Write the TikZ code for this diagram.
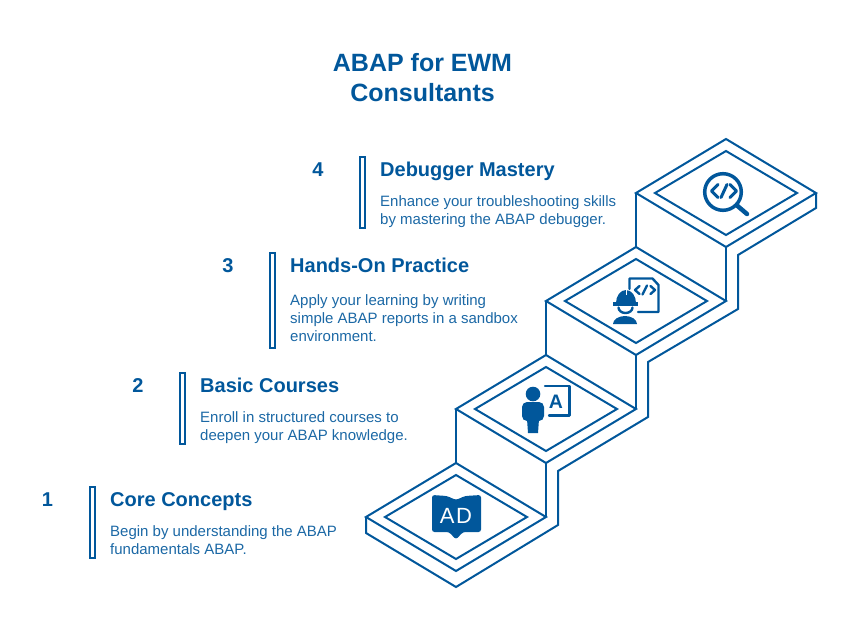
\documentclass[tikz,border=0pt]{standalone}
\usepackage{fontspec}
\setmainfont{Liberation Sans}
\usetikzlibrary{positioning}
\definecolor{abapblue}{HTML}{01579B}

\begin{document}
\begin{tikzpicture}[
            x=1pt, y=-1pt,
            stairline/.style={ draw=abapblue, line width=2pt, line join=miter },
            iconfill/.style={ fill=abapblue, draw=none },
            iconline/.style={ draw=abapblue, line width=2.4pt, line cap=round, line join=round },
            heading/.style={ text=abapblue, font=\bfseries\fontsize{25}{30}\selectfont, align=center, inner sep=0pt },
            stepnum/.style={ text=abapblue, font=\bfseries\fontsize{20}{20}\selectfont, inner sep=0pt, anchor=base },
            stepbar/.style={ draw=abapblue, line width=2pt, minimum width=5pt, inner sep=0pt },
            steptitle/.style={ text=abapblue, font=\bfseries\fontsize{20}{20}\selectfont, inner sep=0pt, anchor=base west },
            stepdesc/.style={ text=abapblue!90, font=\fontsize{15}{18}\selectfont, align=left, inner sep=0pt }
        ]
            \useasboundingbox (0,0) rectangle (852,619);

            % Title
            \node (heading) [heading] at (422.5,78) {ABAP for EWM\\Consultants};

            % Step texts
            \node (num1) [stepnum] at (47.5,506) {1};
            \node (bar1) [stepbar, minimum height=71pt] at (92.5,522.5) {};
            \node (title1) [steptitle] at (110,506) {Core Concepts};
            \node (desc1) [stepdesc, below=19pt of title1.base west, anchor=north west] {Begin by understanding the ABAP\\fundamentals ABAP.};

            \node (num2) [stepnum] at (138,392) {2};
            \node (bar2) [stepbar, minimum height=71pt] at (182.5,408.5) {};
            \node (title2) [steptitle] at (200,392) {Basic Courses};
            \node (desc2) [stepdesc, below=19pt of title2.base west, anchor=north west] {Enroll in structured courses to\\deepen your ABAP knowledge.};

            \node (num3) [stepnum] at (228,272) {3};
            \node (bar3) [stepbar, minimum height=95pt] at (272.5,300.5) {};
            \node (title3) [steptitle] at (290,272) {Hands-On Practice};
            \node (desc3) [stepdesc, below=22pt of title3.base west, anchor=north west] {Apply your learning by writing\\simple ABAP reports in a sandbox\\environment.};

            \node (num4) [stepnum] at (318,176) {4};
            \node (bar4) [stepbar, minimum height=71pt] at (362.5,192.5) {};
            \node (title4) [steptitle] at (380,176) {Debugger Mastery};
            \node (desc4) [stepdesc, below=19pt of title4.base west, anchor=north west] {Enhance your troubleshooting skills\\by mastering the ABAP debugger.};

            % Stair outline
            \draw[stairline] (366,517) -- (366,533) -- (456,587) -- (558,525) -- (558,471) -- (648,417) -- (648,362) -- (738,309) -- (738,255) -- (816,208) -- (816,193);

            % Step tops
            \draw[stairline] (366,517) -- (456,463) -- (546,517) -- (456,571) -- cycle;
            \draw[stairline] (385,517) -- (456,475) -- (527,517) -- (456,559) -- cycle;
            \draw[stairline] (456,409) -- (546,355) -- (636,409) -- (546,463) -- cycle;
            \draw[stairline] (475,409) -- (546,367) -- (617,409) -- (546,451) -- cycle;
            \draw[stairline] (546,301) -- (636,247) -- (726,301) -- (636,355) -- cycle;
            \draw[stairline] (565,301) -- (636,259) -- (707,301) -- (636,343) -- cycle;
            \draw[stairline] (636,193) -- (726,139) -- (816,193) -- (726,247) -- cycle;
            \draw[stairline] (655,193) -- (726,151) -- (797,193) -- (726,235) -- cycle;

            % Risers
            \draw[stairline] (456,409) -- (456,463);
            \draw[stairline] (546,463) -- (546,517);
            \draw[stairline] (546,301) -- (546,355);
            \draw[stairline] (636,355) -- (636,409);
            \draw[stairline] (636,193) -- (636,247);
            \draw[stairline] (726,247) -- (726,301);

            % Book icon
            \fill[iconfill, rounded corners=2.5pt] (432,495) -- (432,532) -- (449,532) -- (456,539.5) -- (463,532) -- (481,532) -- (481,495) -- (465,496) -- (456,500) -- (447,496) -- cycle;
            \node (bookcode) [text=white, font=\fontsize{22}{22}\selectfont, inner sep=0pt] at (456,516) {A\hspace{1.5pt}D};

            % Person and letter icon
            \fill[iconfill] (533,394) circle (7.3pt);
            \fill[iconfill, rounded corners=5pt] (522,421) -- (522,402) -- (544,402) -- (544,421) -- cycle;
            \fill[iconfill] (527,419) -- (539,419) -- (538,433) -- (528,433) -- cycle;
            \draw[iconline] (545,386) -- (569.5,386) -- (569.5,415.5) -- (549,415.5);
            \node (persona) [text=abapblue, font=\bfseries\fontsize{19.5}{19.5}\selectfont, inner sep=0pt] at (556,402) {A};

            % Worker and code icon
            \draw[iconline] (629.5,289) -- (629.5,278.5) -- (652.5,278.5) -- (658.5,285) -- (658.5,312) -- (638,312);
            \draw[iconline] (639.5,286) -- (635,290) -- (639.5,294);
            \draw[iconline] (650.5,286) -- (655,290) -- (650.5,294);
            \draw[iconline] (647,285.5) -- (642.5,294.5);
            \fill[iconfill] (616,303) arc[start angle=180, end angle=0, x radius=10pt, y radius=13pt] -- cycle;
            \draw[white, line width=1pt] (626,289.5) -- (626,295);
            \fill[iconfill] (613,302) rectangle (638,305.5);
            \draw[iconline] (618.5,307.5) arc[start angle=180, end angle=360, x radius=7pt, y radius=5.5pt];
            \fill[iconfill] (613,324) arc[start angle=180, end angle=0, x radius=12pt, y radius=8pt] -- cycle;

            % Magnifier icon
            \draw[abapblue, line width=3.5pt] (723,192) circle (18.3pt);
            \draw[abapblue, line width=4.5pt, line cap=round] (737,205.5) -- (747,214);
            \draw[iconline, line width=3pt] (718,184.5) -- (711.5,191) -- (718,197.5);
            \draw[iconline, line width=3pt] (730,184.5) -- (736.5,191) -- (730,197.5);
            \draw[iconline, line width=3pt] (727,184.5) -- (721,197.5);
        \end{tikzpicture}
\end{document}
